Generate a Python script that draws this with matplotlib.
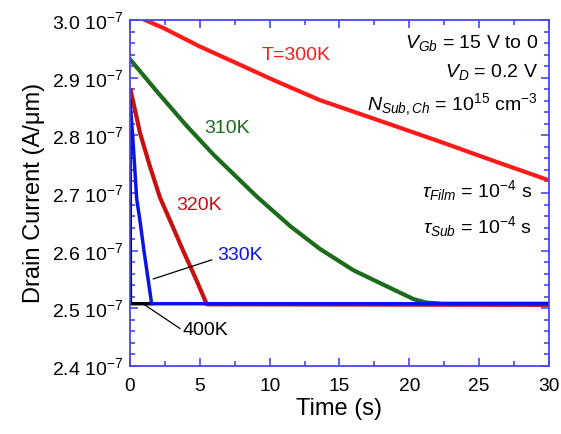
import numpy as np
import matplotlib.pyplot as plt
from matplotlib.ticker import MultipleLocator, FuncFormatter

plt.rcParams['font.family'] = ['Liberation Sans', 'DejaVu Sans']
plt.rcParams['mathtext.fontset'] = 'custom'
plt.rcParams['mathtext.rm'] = 'Liberation Sans'
plt.rcParams['mathtext.it'] = 'Liberation Sans:italic'

# drain current (units of 1e-7 A/um) vs time (s)
t_300 = [1.07, 2.4, 5.0, 7.64, 10.26, 13.6, 18.4, 22.2, 26.0, 30.0]
i_300 = [3.000, 2.986, 2.954, 2.925, 2.896, 2.861, 2.821, 2.789, 2.756, 2.722]

t_310 = [0.0, 2.0, 4.0, 6.0, 9.07, 11.5, 13.6, 16.0, 18.4, 20.3, 21.2, 22.4, 30.0]
i_310 = [2.932, 2.874, 2.818, 2.766, 2.694, 2.642, 2.603, 2.566, 2.538, 2.516, 2.510, 2.508, 2.508]

t_320 = [0.05, 0.72, 1.43, 2.15, 3.0, 3.84, 4.7, 5.5, 30.0]
i_320 = [2.878, 2.804, 2.746, 2.692, 2.645, 2.598, 2.552, 2.507, 2.506]

t_330 = [0.0, 0.19, 0.48, 0.71, 1.0, 1.55, 30.0]
i_330 = [2.86, 2.80, 2.69, 2.653, 2.60, 2.508, 2.508]

t_400 = [0.0, 0.03, 1.5]
i_400 = [2.86, 2.508, 2.508]

fig = plt.figure(figsize=(5.61, 4.34), dpi=100)
ax = fig.add_axes([0.2317, 0.1567, 0.7469, 0.7972])

ax.plot(t_310, np.array(i_310) * 1e-7, color='#1a6b1a', lw=3)
ax.plot(t_320, np.array(i_320) * 1e-7, color='#c81010', lw=3)
ax.plot(t_400, np.array(i_400) * 1e-7, color='black', lw=2.5)
ax.plot(t_330, np.array(i_330) * 1e-7, color='#0a14e6', lw=2.5)
ax.plot(t_300, np.array(i_300) * 1e-7, color='#ff1a1a', lw=3)

ax.set_xlim(0, 30)
ax.set_ylim(2.4e-7, 3.0e-7)
ax.xaxis.set_major_locator(MultipleLocator(5))
ax.xaxis.set_minor_locator(MultipleLocator(2.5))
ax.yaxis.set_major_locator(MultipleLocator(1e-8))
ax.yaxis.set_minor_locator(MultipleLocator(2e-9))
ax.yaxis.set_major_formatter(FuncFormatter(lambda v, p: f"{v * 1e7:.1f} 10$^{{-7}}$"))

spine_col = '#4848f0'
for s in ax.spines.values():
    s.set_color(spine_col)
    s.set_linewidth(1.3)
ax.tick_params(which='both', direction='in', top=True, right=True, color=spine_col, width=1.2)
ax.tick_params(which='major', length=6)
ax.tick_params(which='minor', length=3.5)
ax.tick_params(axis='x', labelsize=13.8, pad=9)
ax.tick_params(axis='y', labelsize=14, pad=5)

ax.set_xlabel('Time (s)', fontsize=17, labelpad=2)
ax.set_ylabel('Drain Current (A/\u03bcm)', fontsize=17, labelpad=5)

ax.text(9.4, 2.939e-7, 'T=300K', color='#ff1a1a', fontsize=14, va='center')
ax.text(6.98, 2.812e-7, '310K', color='#1a6b1a', fontsize=14, ha='center', va='center')
ax.text(4.94, 2.679e-7, '320K', color='#c81010', fontsize=14, ha='center', va='center')
ax.text(7.9, 2.592e-7, '330K', color='#0a14e6', fontsize=14, ha='center', va='center')
ax.text(5.4, 2.462e-7, '400K', color='black', fontsize=14, ha='center', va='center')
ax.plot([5.85, 1.67], [2.584e-7, 2.551e-7], color='black', lw=0.9)
ax.plot([3.58, 0.93], [2.465e-7, 2.508e-7], color='black', lw=0.9)

ax.text(29.2, 2.960e-7, '$V_{Gb}$ = 15 V to 0', fontsize=14, ha='right', va='center')
ax.text(29.2, 2.910e-7, '$V_{D}$ = 0.2 V', fontsize=14, ha='right', va='center')
ax.text(29.2, 2.853e-7, '$N_{Sub,Ch}$ = 10$^{15}$ cm$^{-3}$', fontsize=14, ha='right', va='center')
ax.text(28.78, 2.705e-7, '$\\tau_{Film}$ = 10$^{-4}$ s', fontsize=14, ha='right', va='center')
ax.text(28.78, 2.641e-7, '$\\tau_{Sub}$ = 10$^{-4}$ s', fontsize=14, ha='right', va='center')

fig.savefig('out.png', dpi=100)
